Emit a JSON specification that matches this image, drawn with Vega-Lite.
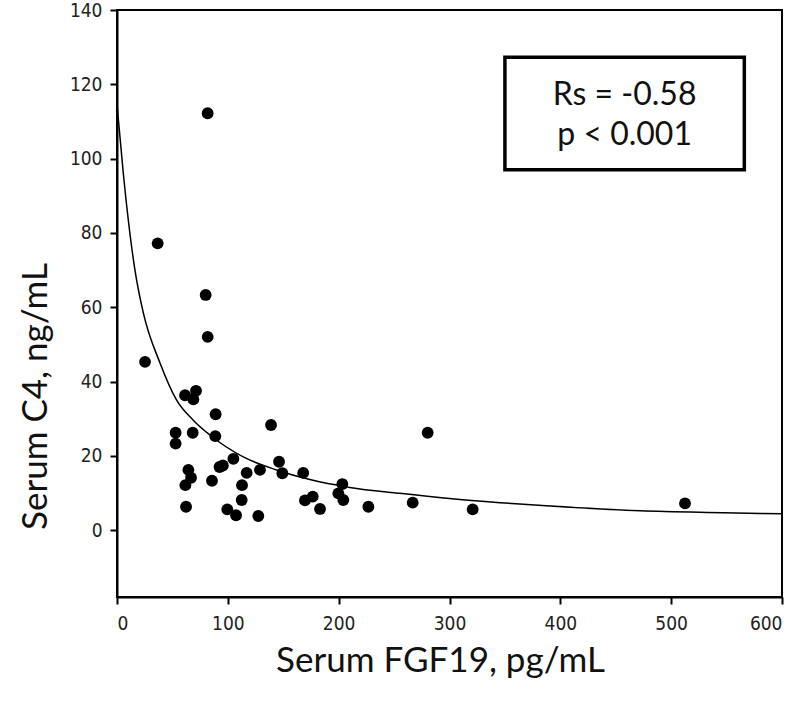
{
  "$schema": "https://vega.github.io/schema/vega-lite/v6.json",
  "width": 665,
  "height": 587,
  "autosize": {"type": "none"},
  "padding": {"left": 117, "top": 10, "right": 18, "bottom": 106},
  "background": "white",
  "config": {
    "view": {"stroke": "black", "strokeWidth": 2},
    "axis": {
      "grid": false,
      "domainColor": "black",
      "domainWidth": 2,
      "tickColor": "black",
      "tickWidth": 2,
      "tickSize": 7,
      "labelColor": "#222",
      "labelFont": "Liberation Sans Narrow, DejaVu Sans Condensed, Liberation Sans, sans-serif",
      "labelFontSize": 19,
      "titleFont": "Lato, Open Sans, sans-serif",
      "titleFontWeight": "normal",
      "titleFontSize": 35,
      "titleColor": "#111"
    }
  },
  "datasets": {
    "points": [
      {"fgf19": 81.8, "c4": 112.2},
      {"fgf19": 36.7, "c4": 77.2},
      {"fgf19": 80.0, "c4": 63.3},
      {"fgf19": 81.8, "c4": 52.0},
      {"fgf19": 25.3, "c4": 45.3},
      {"fgf19": 61.4, "c4": 36.3},
      {"fgf19": 71.3, "c4": 37.5},
      {"fgf19": 68.9, "c4": 35.2},
      {"fgf19": 89.0, "c4": 31.2},
      {"fgf19": 139.0, "c4": 28.3},
      {"fgf19": 52.9, "c4": 26.2},
      {"fgf19": 52.9, "c4": 23.3},
      {"fgf19": 68.3, "c4": 26.2},
      {"fgf19": 88.7, "c4": 25.3},
      {"fgf19": 105.0, "c4": 19.2},
      {"fgf19": 92.5, "c4": 17.0},
      {"fgf19": 95.5, "c4": 17.4},
      {"fgf19": 64.4, "c4": 16.2},
      {"fgf19": 66.8, "c4": 14.1},
      {"fgf19": 61.7, "c4": 12.1},
      {"fgf19": 117.0, "c4": 15.4},
      {"fgf19": 129.0, "c4": 16.2},
      {"fgf19": 146.2, "c4": 18.4},
      {"fgf19": 149.2, "c4": 15.3},
      {"fgf19": 168.0, "c4": 15.4},
      {"fgf19": 85.7, "c4": 13.3},
      {"fgf19": 112.8, "c4": 12.1},
      {"fgf19": 112.5, "c4": 8.1},
      {"fgf19": 169.6, "c4": 8.0},
      {"fgf19": 62.3, "c4": 6.3},
      {"fgf19": 99.5, "c4": 5.6},
      {"fgf19": 107.4, "c4": 4.0},
      {"fgf19": 127.5, "c4": 3.8},
      {"fgf19": 280.3, "c4": 26.2},
      {"fgf19": 203.3, "c4": 12.4},
      {"fgf19": 176.6, "c4": 9.0},
      {"fgf19": 199.7, "c4": 9.9},
      {"fgf19": 204.2, "c4": 8.1},
      {"fgf19": 183.2, "c4": 5.7},
      {"fgf19": 226.8, "c4": 6.3},
      {"fgf19": 266.8, "c4": 7.4},
      {"fgf19": 320.9, "c4": 5.6},
      {"fgf19": 512.5, "c4": 7.2}
    ],
    "fit": [
      {"fgf19": 0.3, "c4": 113.6},
      {"fgf19": 5.7, "c4": 96.0},
      {"fgf19": 16.2, "c4": 70.0},
      {"fgf19": 23.8, "c4": 58.4},
      {"fgf19": 38.8, "c4": 45.0},
      {"fgf19": 53.8, "c4": 35.0},
      {"fgf19": 68.8, "c4": 29.6},
      {"fgf19": 83.9, "c4": 25.6},
      {"fgf19": 113.9, "c4": 19.7},
      {"fgf19": 144.0, "c4": 16.2},
      {"fgf19": 174.0, "c4": 13.6},
      {"fgf19": 210.0, "c4": 11.5},
      {"fgf19": 255.0, "c4": 9.9},
      {"fgf19": 300.0, "c4": 8.5},
      {"fgf19": 345.6, "c4": 7.4},
      {"fgf19": 390.7, "c4": 6.5},
      {"fgf19": 472.0, "c4": 5.2},
      {"fgf19": 547.0, "c4": 4.7},
      {"fgf19": 600.0, "c4": 4.4}
    ],
    "box": [
      {"x1": 350, "x2": 566, "y1": 97, "y2": 127.3}
    ],
    "labels": [
      {"x": 458, "y": 117.1, "text": "Rs = -0.58"},
      {"x": 458, "y": 106.3, "text": "p < 0.001"}
    ]
  },
  "layer": [
    {
      "data": {"name": "fit"},
      "mark": {"type": "line", "color": "black", "strokeWidth": 1.5, "interpolate": "monotone", "clip": true},
      "encoding": {
        "x": {
          "field": "fgf19", "type": "quantitative",
          "scale": {"domain": [0, 600], "nice": false, "zero": false},
          "axis": {"values": [0, 100, 200, 300, 400, 500, 600], "title": "Serum FGF19, pg/mL", "labelPadding": 10, "titlePadding": 10, "titleX": 323}
        },
        "y": {
          "field": "c4", "type": "quantitative",
          "scale": {"domain": [-18, 140], "nice": false, "zero": false},
          "axis": {"values": [0, 20, 40, 60, 80, 100, 120, 140], "title": "Serum C4, ng/mL", "labelPadding": 8, "titleX": -82, "titleY": 386, "titleAngle": -90, "titleAlign": "center", "titleBaseline": "middle"}
        }
      }
    },
    {
      "data": {"name": "points"},
      "mark": {"type": "circle", "color": "black", "opacity": 1, "size": 140},
      "encoding": {
        "x": {"field": "fgf19", "type": "quantitative"},
        "y": {"field": "c4", "type": "quantitative"}
      }
    },
    {
      "data": {"name": "box"},
      "mark": {"type": "rect", "fill": "white", "stroke": "black", "strokeWidth": 3.5},
      "encoding": {
        "x": {"field": "x1", "type": "quantitative"},
        "x2": {"field": "x2"},
        "y": {"field": "y1", "type": "quantitative"},
        "y2": {"field": "y2"}
      }
    },
    {
      "data": {"name": "labels"},
      "mark": {"type": "text", "font": "Lato, Open Sans, sans-serif", "fontSize": 32, "color": "#111", "align": "center", "baseline": "middle"},
      "encoding": {
        "x": {"field": "x", "type": "quantitative"},
        "y": {"field": "y", "type": "quantitative"},
        "text": {"field": "text"}
      }
    }
  ]
}
